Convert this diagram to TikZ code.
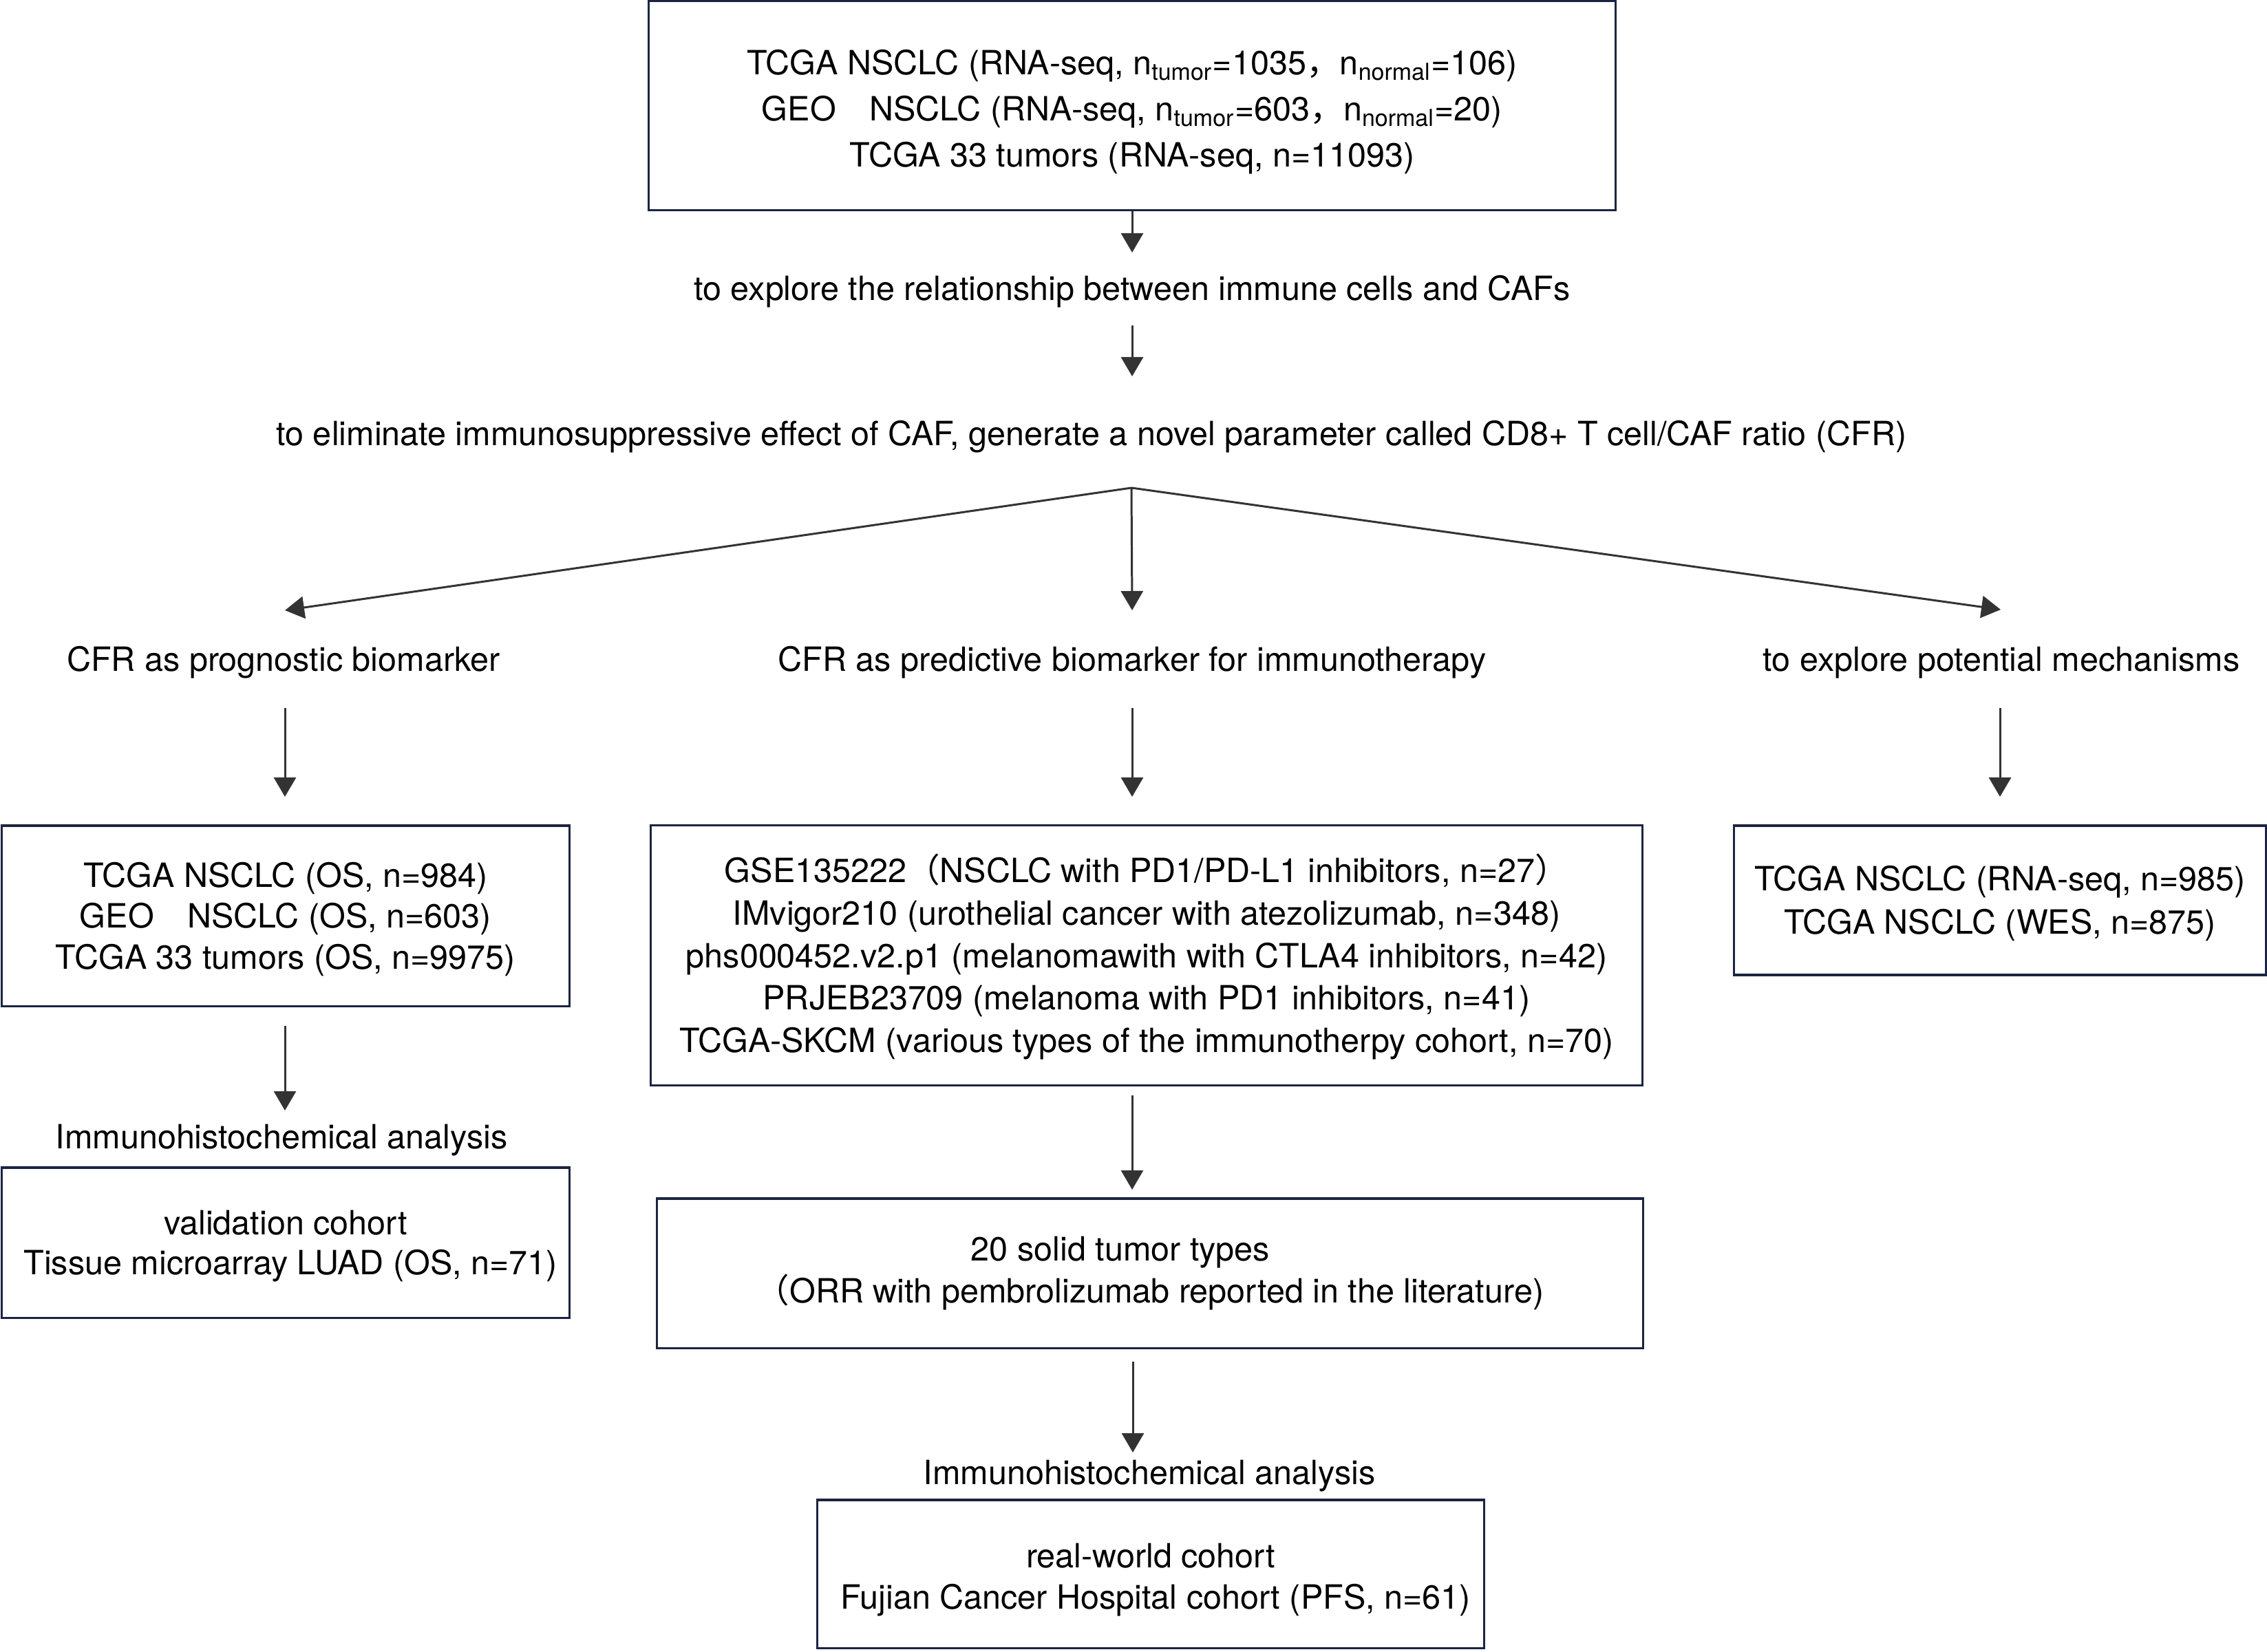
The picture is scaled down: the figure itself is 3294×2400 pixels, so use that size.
\documentclass[tikz,border=0pt]{standalone}
\usepackage{fontspec}
\setmainfont{TeX Gyre Heros}
\newfontfamily\cjk{Noto Sans CJK SC}
\usetikzlibrary{arrows.meta}
\definecolor{boxc}{HTML}{1B2541}
\definecolor{arrc}{HTML}{333333}
\tikzset{
  every node/.style={text=black, font=\fontsize{13.8}{17.5}\selectfont},
  lbl/.style={inner sep=0pt},
  box/.style={draw=boxc, line width=0.9pt, inner sep=0pt, align=center},
  arr/.style={draw=arrc, line width=0.85pt, -{Triangle[length=0.28cm,width=0.32cm]}},
}
\begin{document}
\begin{tikzpicture}[x=0.01cm, y=-0.01cm]
\useasboundingbox[fill=white] (0,0) rectangle (3294,2400);

% top box
\node[box, minimum width=14.04cm, minimum height=3.03cm, font=\fontsize{13.8}{19}\selectfont] (top) at (1645,153.5)
 {\rule{0pt}{15.5pt}TCGA NSCLC (RNA-seq, n\textsubscript{tumor}=1035{\cjk ，}n\textsubscript{normal}=106)\\
  GEO{\cjk 　}NSCLC (RNA-seq, n\textsubscript{tumor}=603{\cjk ，}n\textsubscript{normal}=20)\\
  TCGA 33 tumors (RNA-seq, n=11093)};

\node[lbl] (t1) at (1645,424) {to explore the relationship between immune cells and CAFs};
\node[lbl] (t2) at (1586,635) {to eliminate immunosuppressive effect of CAF, generate a novel parameter called CD8+ T cell/CAF ratio (CFR)};

\coordinate (a1e) at (1645,367);
\coordinate (a2s) at (1645,473);
\coordinate (a2e) at (1645,547);
\coordinate (br) at (1644,709);
\coordinate (bl) at (414,887);
\coordinate (bm) at (1645,887);
\coordinate (brr) at (2907,886);

\draw[arr] (top.south -| a1e) -- (a1e);
\draw[arr] (a2s) -- (a2e);
\draw[arr] (br) -- (bl);
\draw[arr] (br) -- (bm);
\draw[arr] (br) -- (brr);

% second level labels
\node[lbl] (L1) at (412,963) {CFR as prognostic biomarker};
\node[lbl] (M1) at (1645,963) {CFR as predictive biomarker for immunotherapy};
\node[lbl] (R1) at (2908,963) {to explore potential mechanisms};

\coordinate (l1s) at (414,1029);  \coordinate (l1e) at (414,1158);
\coordinate (m1s) at (1645,1029); \coordinate (m1e) at (1645,1158);
\coordinate (r1s) at (2906,1029); \coordinate (r1e) at (2906,1158);
\draw[arr] (l1s) -- (l1e);
\draw[arr] (m1s) -- (m1e);
\draw[arr] (r1s) -- (r1e);

% left column
\node[box, minimum width=8.24cm, minimum height=2.62cm, font=\fontsize{13.8}{16.9}\selectfont] (Lbox1) at (415,1331)
 {\rule{0pt}{13pt}TCGA NSCLC (OS, n=984)\\
  GEO{\cjk 　}NSCLC (OS, n=603)\\
  TCGA 33 tumors (OS, n=9975)};
\coordinate (l2s) at (414,1491); \coordinate (l2e) at (414,1614);
\draw[arr] (l2s) -- (l2e);
\node[lbl] (Lihc) at (409,1657) {Immunohistochemical analysis};
\node[box, minimum width=8.24cm, minimum height=2.18cm, font=\fontsize{13.8}{16.5}\selectfont] (Lbox2) at (415,1806)
 {\rule{0pt}{13pt}validation cohort\\
  \hspace*{0.3em}Tissue microarray LUAD (OS, n=71)};

% middle column
\node[box, minimum width=14.4cm, minimum height=3.77cm, font=\fontsize{13.8}{17.6}\selectfont] (Mbox) at (1666,1388.5)
 {\rule{0pt}{13pt}GSE135222{\cjk （}NSCLC with PD1/PD-L1 inhibitors, n=27{\cjk ）}\\
  IMvigor210 (urothelial cancer with atezolizumab, n=348)\\
  phs000452.v2.p1 (melanomawith with CTLA4 inhibitors, n=42)\\
  PRJEB23709 (melanoma with PD1 inhibitors, n=41)\\
  TCGA-SKCM (various types of the immunotherpy cohort, n=70)};
\coordinate (m2s) at (1645,1592); \coordinate (m2e) at (1645,1729);
\draw[arr] (m2s) -- (m2e);
\node[box, minimum width=14.32cm, minimum height=2.17cm, font=\fontsize{13.8}{17.3}\selectfont] (Sbox) at (1671,1850.5)
 {20 solid tumor types\hspace*{0.86cm}\\
  {\cjk （}ORR with pembrolizumab reported in the literature)};
\coordinate (m3s) at (1646,1979); \coordinate (m3e) at (1646,2111);
\draw[arr] (m3s) -- (m3e);
\node[lbl] (Mihc) at (1670,2145) {Immunohistochemical analysis};
\node[box, minimum width=9.68cm, minimum height=2.15cm, font=\fontsize{13.8}{17}\selectfont] (Bbox) at (1672,2287.5)
 {\rule{0pt}{15pt}real-world cohort\\
  \hspace*{0.3em}Fujian Cancer Hospital cohort (PFS, n=61)};

% right column
\node[box, minimum width=7.72cm, minimum height=2.17cm, font=\fontsize{13.8}{17.8}\selectfont] (Rbox) at (2906,1308.5)
 {\rule{0pt}{13pt}TCGA NSCLC (RNA-seq, n=985)\\
  TCGA NSCLC (WES, n=875)};
\end{tikzpicture}
\end{document}
